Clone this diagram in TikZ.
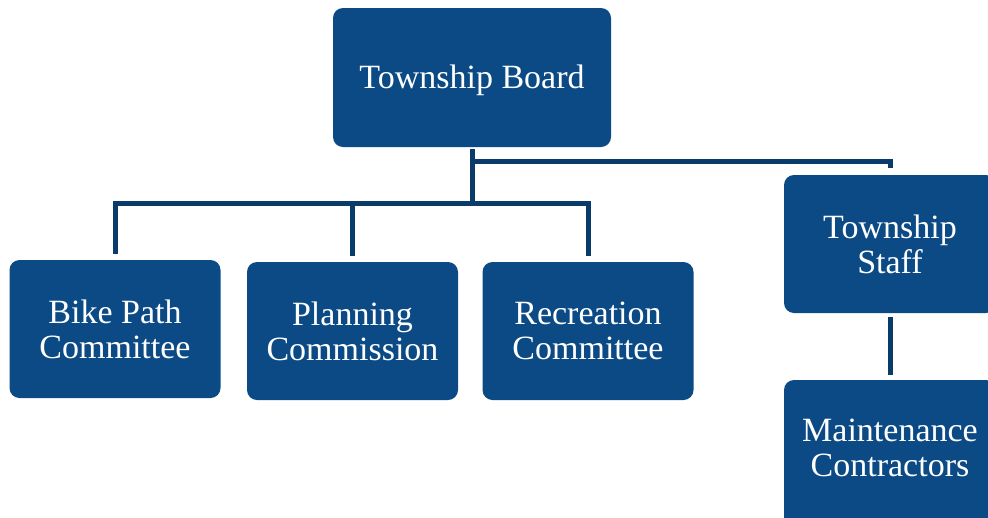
\documentclass[tikz,border=0pt]{standalone}
\usepackage{fontspec}
\setmainfont{Liberation Serif}
\usepackage{tikz}
\usetikzlibrary{calc, positioning}
\definecolor{BOX}{HTML}{0B4A84}
\definecolor{LNK}{HTML}{0A3C6B}
\tikzset{
  UNIT/.style={% Style for the org chart boxes
      rectangle, rounded corners=10pt,
      align=center,
      text=white,
      fill=BOX,
      minimum width=211pt,
      minimum height=138pt,
      inner sep=0pt,
      font=\fontsize{34}{35}\selectfont,
  },
  LINK/.style={% Style for the connectors
      draw=LNK,
      line width=5pt,
  }
}

\begin{document}
\begin{tikzpicture}[x=1pt, y=-1pt]
    \useasboundingbox (0,0) rectangle (988,517);
    % top level
    \node[UNIT, minimum width=278pt, minimum height=139pt, text depth=1pt] (Board) at (472,77.5) {Township Board};
    % committees
    \node[UNIT] (BikePath) at (115,329) {Bike Path\\Committee};
    \node[UNIT] (Planning) at (352.5,331) {Planning\\Commission};
    \node[UNIT] (Recreation) at (588,331) {Recreation\\Committee};
    % staff branch
    \node[UNIT, minimum width=212pt] (Staff) at (890,244) {Township\\Staff};
    \node[UNIT, minimum width=212pt, minimum height=160pt, text depth=24pt] (Maint) at (890,460) {Maintenance\\Contractors};
    \coordinate (highbar) at (472,161);
    \coordinate (lowbar) at (472,203);
    \draw[LINK, shorten <=2pt] (Board.south) -- (lowbar);
    \foreach \unit in {BikePath, Planning, Recreation} {%
        \draw[LINK, shorten >=6pt] (lowbar) -| (\unit.north);
    }
    \draw[LINK, shorten >=7pt] (highbar) -| (Staff.north);
    \draw[LINK, shorten <=4pt, shorten >=5pt] (Staff) -- (Maint);
\end{tikzpicture}
\end{document}
